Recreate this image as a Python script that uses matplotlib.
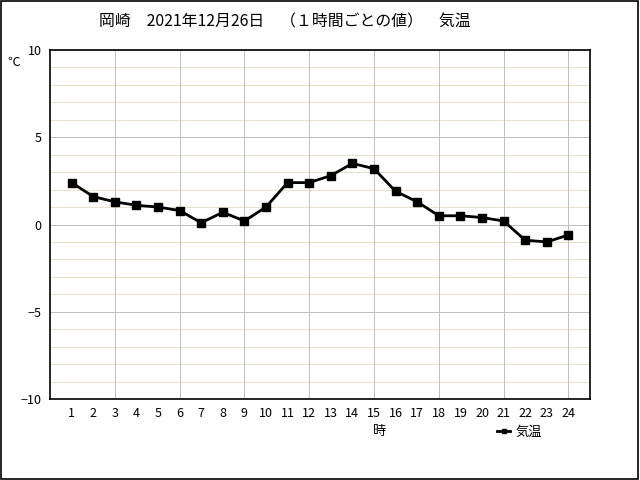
import matplotlib
matplotlib.use("Agg")
import matplotlib.pyplot as plt
from matplotlib.patches import Rectangle

plt.rcParams['font.family'] = ['Noto Sans CJK JP', 'DejaVu Sans']

hours = list(range(1, 25))
temps = [2.4, 1.6, 1.3, 1.1, 1.0, 0.8, 0.1, 0.7, 0.2, 1.0, 2.4, 2.4,
         2.8, 3.5, 3.2, 1.9, 1.3, 0.5, 0.5, 0.4, 0.2, -0.9, -1.0, -0.6]
yticks = [-10, -5, 0, 5, 10]
title = "岡崎　2021年12月26日　（１時間ごとの値）　気温"

fig = plt.figure(figsize=(6.4, 4.8), dpi=100)
W, H = 640, 480
ax = fig.add_axes([50 / W, (H - 399) / H, 540 / W, 349 / H])

ax.set_xlim(0, 25)
ax.set_ylim(-10, 10)

px = 72 / 100  # one pixel in points

# grid lines
for y in range(-10, 11):
    if y % 5 == 0:
        continue
    ax.axhline(y, color='#e9e1c9', lw=px, zorder=0, antialiased=False)
for y in yticks:
    ax.axhline(y, color='#c0c0c0', lw=px, zorder=0.5, antialiased=False)
for x in range(3, 25, 3):
    ax.axvline(x, color='#c0c0c0', lw=px, zorder=0.5, antialiased=False)

ax.plot(hours, temps, color='black', lw=2, marker='s', markersize=5.5,
        zorder=3, label='気温')

ax.set_xticks(hours)
ax.set_xticklabels([str(h) for h in hours], fontsize=9)
ax.set_yticks(yticks)
ax.set_yticklabels([str(v).replace('-', '−') for v in yticks], fontsize=9)
ax.tick_params(length=0, pad=6)
for s in ax.spines.values():
    s.set_color('black')
    s.set_linewidth(1.2)

fig.text(285 / W, 1 - 22 / H, title, ha='center', va='center', fontsize=11.4)
fig.text(14 / W, 1 - 62 / H, '℃', ha='center', va='center', fontsize=9)
fig.text(380 / W, 1 - 432 / H, '時', ha='center', va='center', fontsize=9.5)

leg = fig.legend(loc='center left', bbox_to_anchor=(497 / W, 1 - 432 / H),
                 frameon=False, fontsize=9.5, handlelength=1.0,
                 handletextpad=0.4, borderpad=0, borderaxespad=0,
                 markerscale=0.5)

fig.add_artist(Rectangle((0.5 / W, 1.5 / H), 1 - 2.5 / W, 1 - 2.5 / H,
                         transform=fig.transFigure,
                         fill=False, edgecolor='black', lw=1.2))

fig.savefig('out.png', dpi=100)
